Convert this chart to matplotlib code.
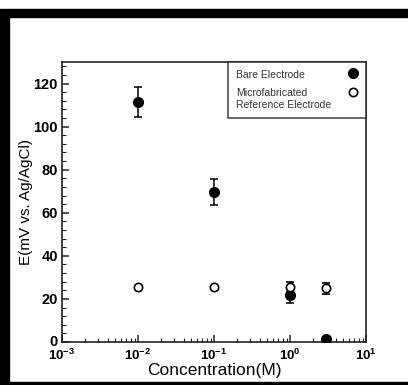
import matplotlib.pyplot as plt
from matplotlib.patches import Rectangle
from matplotlib.lines import Line2D
from matplotlib.ticker import FuncFormatter
from matplotlib.transforms import ScaledTranslation
import numpy as np

plt.rcParams['font.family'] = ['Liberation Sans', 'DejaVu Sans']
plt.rcParams['mathtext.fontset'] = 'custom'
plt.rcParams['mathtext.rm'] = 'Liberation Sans'
plt.rcParams['mathtext.bf'] = 'Liberation Sans:bold'

conc = [0.01, 0.1, 1.0, 3.0]
bare = [111.5, 69.5, 22.0, 1.5]
bare_err = [7.0, 6.0, 4.0, 0.5]
micro = [25.5, 25.5, 25.5, 25.0]
micro_err = [0.5, 0.5, 2.5, 2.5]
yticks = [0, 20, 40, 60, 80, 100, 120]
labels = ['Bare Electrode', 'Microfabricated\nReference Electrode']

fig = plt.figure(figsize=(4.08, 3.85), dpi=100)

# black frame pieces around the original figure
fig.patches.append(Rectangle((0, 368/385), 1, 8/385, transform=fig.transFigure, color='black', zorder=0))
fig.patches.append(Rectangle((0, 0), 9/408, 375/385, transform=fig.transFigure, color='black', zorder=0))
fig.patches.append(Rectangle((0, 1/385), 1, 2/385, transform=fig.transFigure, color='black', zorder=0))

ax = fig.add_axes([62/408, 43/385, 304/408, 280/385])

ax.errorbar(conc, bare, yerr=bare_err, fmt='o', color='black', ms=7,
            capsize=3.2, elinewidth=1.1, capthick=1.1, zorder=3)
ax.errorbar(conc, micro, yerr=micro_err, fmt='o', color='black', mfc='white', mec='black',
            mew=1.2, ms=6, capsize=3.0, elinewidth=1.0, capthick=1.0, zorder=4)

ax.set_xscale('log')
ax.set_xlim(1e-3, 1e1)
ax.set_ylim(0, 130)
ax.set_yticks(yticks)
ax.set_yticks(range(0, 131, 4), minor=True)
ax.xaxis.set_major_formatter(FuncFormatter(lambda v, p: r'$\mathbf{10^{%d}}$' % int(round(np.log10(v)))))

for s in ax.spines.values():
    s.set_linewidth(1.2)
    s.set_color('#222222')

ax.tick_params(which='both', direction='in', top=False, right=False, color='#222222')
ax.tick_params(which='major', length=5, width=1.1, pad=3)
ax.tick_params(which='minor', length=3, width=0.8)
ax.tick_params(axis='y', labelsize=10.5)
ax.tick_params(axis='x', labelsize=9.5, pad=4)
for lab in ax.get_yticklabels():
    lab.set_fontweight('bold')
# lift the "0" a touch so it sits above the 10^-3 label
ylabs = ax.get_yticklabels()
ylabs[0].set_transform(ylabs[0].get_transform() + ScaledTranslation(0, 2/100, fig.dpi_scale_trans))

ax.set_xlabel('Concentration(M)', fontsize=12.5, labelpad=0)
ax.set_ylabel('E(mV vs. Ag/AgCl)', fontsize=11, labelpad=0)

handles = [Line2D([], [], ls='none', marker='o', ms=7, color='black'),
           Line2D([], [], ls='none', marker='o', ms=6, mfc='white', mec='black', mew=1.2)]
leg = ax.legend(handles, labels, loc='upper right', markerfirst=False, fontsize=7.5,
                frameon=True, fancybox=False, borderaxespad=0, handlelength=1.0,
                handletextpad=0.5, labelspacing=0.8, borderpad=0.75)
leg.get_frame().set_edgecolor('#222222')
leg.get_frame().set_linewidth(1.2)
for t in leg.get_texts():
    t.set_color('#333333')
# text on the left, marker on the right, marker level with first text line
for col in leg._legend_handle_box.get_children():
    for row in col.get_children():
        row.mode = 'expand'
        row.width = 122
        row.align = 'top'

fig.savefig('out.png', dpi=100)
